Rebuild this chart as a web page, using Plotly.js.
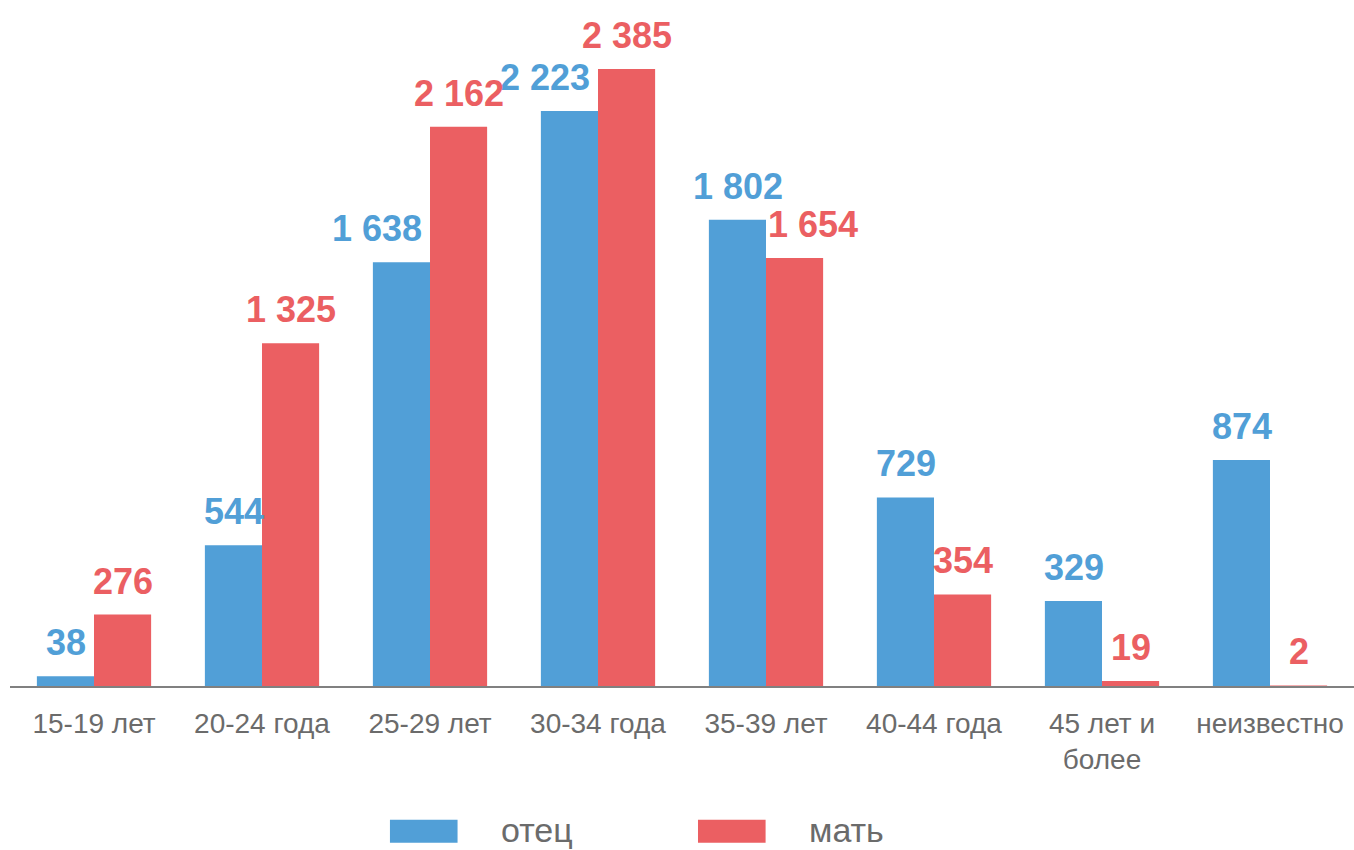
<!DOCTYPE html>
<html>
<head>
<meta charset="utf-8">
<script src="https://cdn.plot.ly/plotly-3.0.1.min.js"></script>
<style>
  html, body { margin: 0; padding: 0; background: #fff; }
  #chart { width: 1354px; height: 850px; }
</style>
</head>
<body>
<div id="chart"></div>
<script>
// age groups of the parents
const categories = ['15-19 лет', '20-24 года', '25-29 лет', '30-34 года', '35-39 лет', '40-44 года', '45 лет и<br>более', 'неизвестно'];
const fatherValues = [38, 544, 1638, 2223, 1802, 729, 329, 874];
const motherValues = [276, 1325, 2162, 2385, 1654, 354, 19, 2];
const seriesNames = ['отец', 'мать'];
const seriesColors = ['#519fd7', '#eb5f62'];

const FONT = 'Arial, "Liberation Sans", sans-serif';
const HALF_BAR = 28.5; // half a bar, px

function fmt(v) {
    return String(v).replace(/\B(?=(\d{3})+(?!\d))/g, '\u00a0');
}

const allValues = [fatherValues, motherValues];

const traces = allValues.map((values, i) => ({
    type: 'bar',
    x: categories,
    y: values,
    name: seriesNames[i],
    marker: { color: seriesColors[i] },
    hoverinfo: 'x+y+name',
    showlegend: false
}));

// value labels above the bars; wide labels next to a taller neighbour
// are pushed away from it so they don't run into that bar
const annotations = [];
allValues.forEach((values, i) => {
    const other = allValues[1 - i];
    values.forEach((v, j) => {
        let xanchor = 'center';
        let xshift = i == 0 ? -HALF_BAR : HALF_BAR;
        const wide = v >= 1000;
        if (wide && other[j] > v + 60) {
            if (i == 0) { xanchor = 'right'; xshift = -6; }
            else { xanchor = 'left'; xshift = 0; }
        }
        annotations.push({
            x: categories[j],
            y: v,
            xref: 'x',
            yref: 'y',
            text: fmt(v),
            showarrow: false,
            xanchor: xanchor,
            yanchor: 'bottom',
            xshift: xshift,
            yshift: 11,
            font: { family: FONT, size: 36, color: seriesColors[i], weight: 'bold' }
        });
    });
});

// legend drawn by hand so the swatches can be wide
const legendX = [0.2827, 0.5119];
const shapes = [];
seriesNames.forEach((name, i) => {
    shapes.push({
        type: 'rect',
        xref: 'paper', yref: 'paper',
        x0: legendX[i], x1: legendX[i] + 0.0503,
        y0: -0.232, y1: -0.198,
        fillcolor: seriesColors[i],
        line: { width: 0 }
    });
    annotations.push({
        xref: 'paper', yref: 'paper',
        x: legendX[i] + 0.081,
        y: -0.213,
        text: name,
        showarrow: false,
        xanchor: 'left',
        yanchor: 'middle',
        font: { family: FONT, size: 34, color: '#6b6b6b' }
    });
});

const layout = {
    width: 1354,
    height: 850,
    margin: { l: 10, r: 0, t: 10, b: 164, pad: 0 },
    paper_bgcolor: '#ffffff',
    plot_bgcolor: '#ffffff',
    barmode: 'group',
    bargap: 0.32,
    bargroupgap: 0,
    showlegend: false,
    font: { family: FONT },
    xaxis: {
        type: 'category',
        showline: true,
        linecolor: '#808080',
        linewidth: 2,
        showgrid: false,
        zeroline: false,
        ticks: '',
        ticklabelstandoff: 11,
        tickfont: { family: FONT, size: 28, color: '#6b6b6b' }
    },
    yaxis: {
        range: [0, 2613],
        visible: false,
        showgrid: false,
        zeroline: false
    },
    annotations: annotations,
    shapes: shapes
};

Plotly.newPlot('chart', traces, layout, { displayModeBar: false, staticPlot: true });
</script>
</body>
</html>
